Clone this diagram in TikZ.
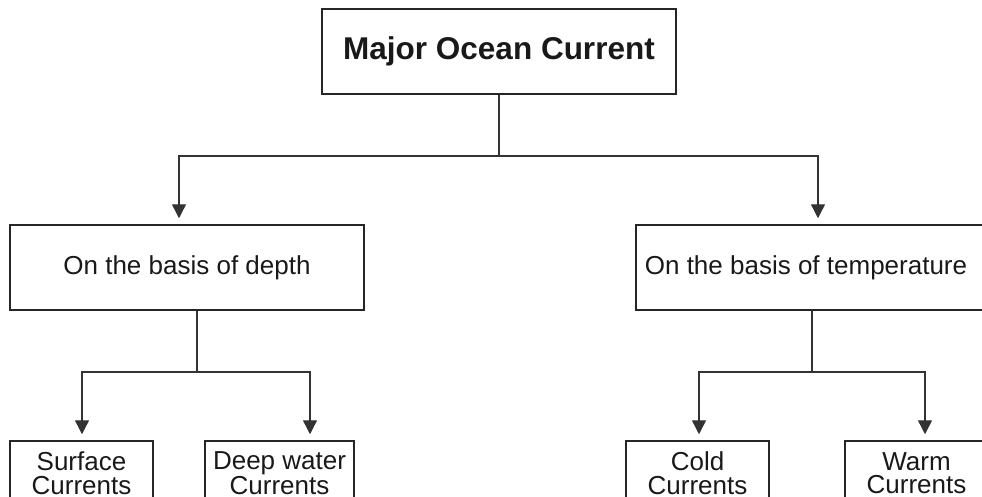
\documentclass[tikz,border=0pt]{standalone}
\usepackage{fontspec}
\setmainfont{Liberation Sans}
\usetikzlibrary{arrows.meta, positioning}

\begin{document}
\begin{tikzpicture}[x=1pt, y=-1pt, >={Triangle[width=14pt,length=14pt]},
        box/.style={draw=black!85, line width=1.5pt, rectangle, inner sep=0pt, align=center,
                    text=black!90, font=\fontsize{26}{23.5}\selectfont},
        bigbox/.style={box, minimum width=354pt, minimum height=85pt},
        leafbox/.style={box, minimum height=64pt},
        link/.style={draw=black!80, line width=1.4pt}]
        \useasboundingbox (0,0) rectangle (982,496);
        \clip (0,0) rectangle (982,496);

        \node[bigbox, font=\bfseries\fontsize{31.5}{36}\selectfont] (major) at (499,51.5) {Major Ocean Current};

        \node[bigbox] (depth) at (187,267.5) {On the basis of depth};
        \node[bigbox] (temp)  at (813,267.5) {\hspace*{-14pt}On the basis of temperature};

        \node[leafbox, minimum width=143pt] (surf) at (81.5,473) {Surface\\Currents};
        \node[leafbox, minimum width=149pt] (deep) at (279.5,473) {Deep water\\Currents};
        \node[leafbox, minimum width=143pt] (cold) at (697.5,473) {Cold\\Currents};
        \node[leafbox, minimum width=143pt] (warm) at (916.5,473) {Warm\\Currents};

        % junctions
        \coordinate (mj)  at (499,156);
        \coordinate (dj)  at (179,156);
        \coordinate (tj)  at (818,156);
        \coordinate (dsj) at (197,372);
        \coordinate (sa)  at (82,372);
        \coordinate (da)  at (310,372);
        \coordinate (tsj) at (812,372);
        \coordinate (ca)  at (699,372);
        \coordinate (wa)  at (925,372);

        \draw[link] (major.south) -- (mj);
        \draw[link, ->, shorten >=6pt] (mj) -- (dj) -- (dj |- depth.north);
        \draw[link, ->, shorten >=6pt] (mj) -- (tj) -- (tj |- temp.north);

        \draw[link] (depth.south -| dsj) -- (dsj);
        \draw[link, ->, shorten >=6pt] (dsj) -- (sa) -- (sa |- surf.north);
        \draw[link, ->, shorten >=6pt] (dsj) -- (da) -- (da |- deep.north);

        \draw[link] (temp.south -| tsj) -- (tsj);
        \draw[link, ->, shorten >=6pt] (tsj) -- (ca) -- (ca |- cold.north);
        \draw[link, ->, shorten >=6pt] (tsj) -- (wa) -- (wa |- warm.north);
\end{tikzpicture}
\end{document}
